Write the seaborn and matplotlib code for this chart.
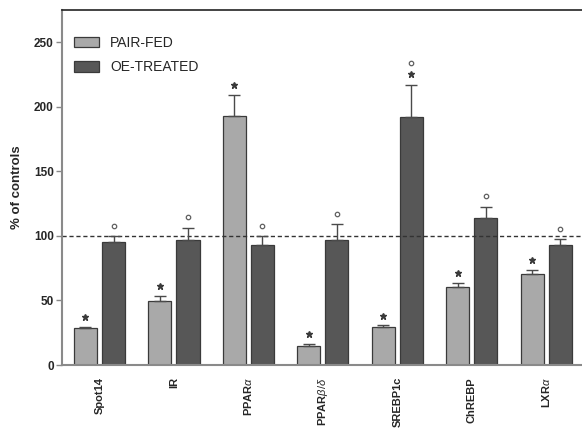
import numpy as np
import pandas as pd
import matplotlib
matplotlib.use('Agg')
import matplotlib.pyplot as plt
import seaborn as sns
from matplotlib.patches import Patch

# values (% of controls)
genes = ['Spot14', 'IR', r'PPAR$\alpha$', r'PPAR$\beta/\delta$', 'SREBP1c', 'ChREBP', r'LXR$\alpha$']
pair_fed = [29, 49.5, 193, 14.7, 29.5, 60.7, 70.8]
pair_fed_err = [0.8, 4, 16, 1.6, 1.2, 3.2, 2.8]
oe_treated = [95.3, 96.5, 92.8, 97, 192, 113.7, 93]
oe_treated_err = [4.7, 9.8, 7.2, 12, 25, 9, 4.4]
pf_star = [True] * 7
oe_circle = [True] * 7
oe_star = [False, False, False, False, True, False, False]

groups = ['PAIR-FED', 'OE-TREATED']
colors = ['#a9a9a9', '#575757']

df = pd.DataFrame({
    'gene': genes * 2,
    'group': [groups[0]] * 7 + [groups[1]] * 7,
    'value': pair_fed + oe_treated,
})

sns.set_style('white')
plt.rcParams['font.family'] = ['Liberation Sans', 'DejaVu Sans']
plt.rcParams['mathtext.fontset'] = 'custom'
plt.rcParams['mathtext.rm'] = 'Liberation Sans'
plt.rcParams['mathtext.it'] = 'Liberation Sans:italic'

fig = plt.figure(figsize=(5.82, 4.28), dpi=100)
ax = fig.add_axes([0.1065, 0.147, 0.8935, 0.83])

sns.barplot(data=df, x='gene', y='value', hue='group', palette=colors,
            width=0.757, gap=0.18, edgecolor='#3a3a3a', linewidth=0.9,
            errorbar=None, legend=False, ax=ax)

# one-sided error bars and significance marks
n = len(genes)
patches = ax.patches[:2 * n]
for i, p in enumerate(patches):
    g = i // n
    j = i % n
    x = p.get_x() + p.get_width() / 2
    val = pair_fed[j] if g == 0 else oe_treated[j]
    err = pair_fed_err[j] if g == 0 else oe_treated_err[j]
    ax.errorbar(x, val, yerr=[[0], [err]], fmt='none', ecolor='#4a4a4a',
                elinewidth=1.0, capsize=4, capthick=1.0, zorder=3)
    top = val + err
    if g == 0 and pf_star[j]:
        ax.plot(x, top + 7.5, marker='*', ms=5, color='#3a3a3a', zorder=4)
    if g == 1:
        if oe_star[j]:
            ax.plot(x, top + 8, marker='*', ms=5, color='#3a3a3a', zorder=4)
            ax.plot(x, top + 17, marker='o', ms=3.2, mfc='white', mec='#606060', mew=0.9, zorder=4)
        elif oe_circle[j]:
            ax.plot(x, top + 8, marker='o', ms=3.2, mfc='white', mec='#606060', mew=0.9, zorder=4)

ax.axhline(100, color='#333333', ls='--', lw=1.0, dashes=(3, 2), zorder=1)

ax.set_ylim(0, 275)
ax.set_xlim(-0.503, 6.48)
ax.set_yticks([0, 50, 100, 150, 200, 250])
ax.set_ylabel('% of controls', fontsize=9.5, fontweight='bold', labelpad=8)
ax.set_xlabel('')
ax.tick_params(axis='y', which='major', left=True, length=4, width=1, color='#888888',
               labelsize=8.5, pad=2)
ax.tick_params(axis='x', which='major', bottom=False, labelsize=8, pad=5)
for lbl in ax.get_yticklabels():
    lbl.set_fontweight('bold')
ax.set_xticks(range(n))
ax.set_xticklabels(genes, rotation=90, fontweight='bold')

for s in ['left', 'bottom']:
    ax.spines[s].set_color('#8a8a8a')
    ax.spines[s].set_linewidth(1.5)
ax.spines['top'].set_color('#222222')
ax.spines['top'].set_linewidth(1.2)
ax.spines['right'].set_visible(False)

handles = [Patch(facecolor=colors[0], edgecolor='#3a3a3a', linewidth=0.9),
           Patch(facecolor=colors[1], edgecolor='#3a3a3a', linewidth=0.9)]
ax.legend(handles, groups, loc='upper left', bbox_to_anchor=(0.0, 0.962),
          frameon=False, fontsize=10, handlelength=1.75, handleheight=0.75,
          handletextpad=0.8, labelspacing=0.75)

fig.savefig('out.png', dpi=100)
